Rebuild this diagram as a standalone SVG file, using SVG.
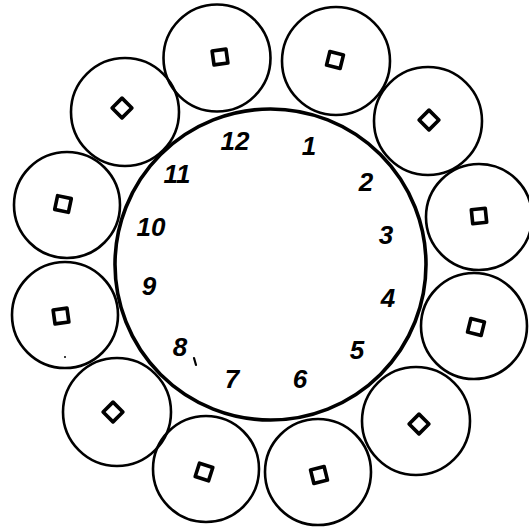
<svg xmlns="http://www.w3.org/2000/svg" width="529" height="530" viewBox="0 0 529 530">
<style>
.sm{fill:none;stroke:#000;stroke-width:2.6}
.main{fill:none;stroke:#000;stroke-width:3.6}
.hole{fill:none;stroke:#000;stroke-width:3.6;stroke-linejoin:round}
.num{font-family:"Liberation Sans",Arial,sans-serif;font-size:26px;font-weight:bold;font-style:italic;fill:#000;text-anchor:middle}
</style>
<rect width="529" height="530" fill="#fff"/>
<g id="dial">
<circle class="main" cx="270.5" cy="264.5" r="155.5"/>
</g>
<g id="wheel1"><circle class="sm" cx="217" cy="58" r="53.5"/><rect class="hole" x="-7" y="-7" width="14" height="14" transform="translate(220 57) rotate(-8)"/></g>
<g id="wheel2"><circle class="sm" cx="336" cy="61" r="54"/><rect class="hole" x="-7" y="-7" width="14" height="14" transform="translate(335 60) rotate(14)"/></g>
<g id="wheel3"><circle class="sm" cx="428" cy="121" r="54"/><rect class="hole" x="-7" y="-7" width="14" height="14" transform="translate(429 120) rotate(45)"/></g>
<g id="wheel4"><circle class="sm" cx="479" cy="217" r="53"/><rect class="hole" x="-7" y="-7" width="14" height="14" transform="translate(479 216) rotate(-6)"/></g>
<g id="wheel5"><circle class="sm" cx="474" cy="326" r="53"/><rect class="hole" x="-7" y="-7" width="14" height="14" transform="translate(476 327) rotate(14)"/></g>
<g id="wheel6"><circle class="sm" cx="416" cy="421" r="54"/><rect class="hole" x="-7" y="-7" width="14" height="14" transform="translate(419 424) rotate(45)"/></g>
<g id="wheel7"><circle class="sm" cx="318" cy="472" r="53"/><rect class="hole" x="-7" y="-7" width="14" height="14" transform="translate(319 475) rotate(-14)"/></g>
<g id="wheel8"><circle class="sm" cx="206" cy="469" r="53"/><rect class="hole" x="-7" y="-7" width="14" height="14" transform="translate(204 472) rotate(18)"/></g>
<g id="wheel9"><circle class="sm" cx="117" cy="412" r="54"/><rect class="hole" x="-7" y="-7" width="14" height="14" transform="translate(113 412) rotate(45)"/></g>
<g id="wheel10"><circle class="sm" cx="65" cy="315" r="53"/><rect class="hole" x="-7" y="-7" width="14" height="14" transform="translate(61 316) rotate(-8)"/><circle cx="65" cy="357" r="1" fill="#000"/></g>
<g id="wheel11"><circle class="sm" cx="67" cy="205" r="53"/><rect class="hole" x="-7" y="-7" width="14" height="14" transform="translate(63 204) rotate(12)"/></g>
<g id="wheel12"><circle class="sm" cx="125" cy="112" r="54"/><rect class="hole" x="-7" y="-7" width="14" height="14" transform="translate(122 108) rotate(45)"/></g>
<g id="numbers">
<text class="num" x="235" y="150">12</text>
<text class="num" x="309" y="155">1</text>
<text class="num" x="366" y="191">2</text>
<text class="num" x="386" y="244">3</text>
<text class="num" x="388" y="307">4</text>
<text class="num" x="357" y="359">5</text>
<text class="num" x="300" y="388">6</text>
<text class="num" x="232" y="388">7</text>
<text class="num" x="180" y="356">8</text>
<path d="M194 358 L196 365" stroke="#000" stroke-width="2.2" stroke-linecap="round"/>
<text class="num" x="149" y="295">9</text>
<text class="num" x="151" y="236">10</text>
<text class="num" x="177" y="183">11</text>
</g>
</svg>
